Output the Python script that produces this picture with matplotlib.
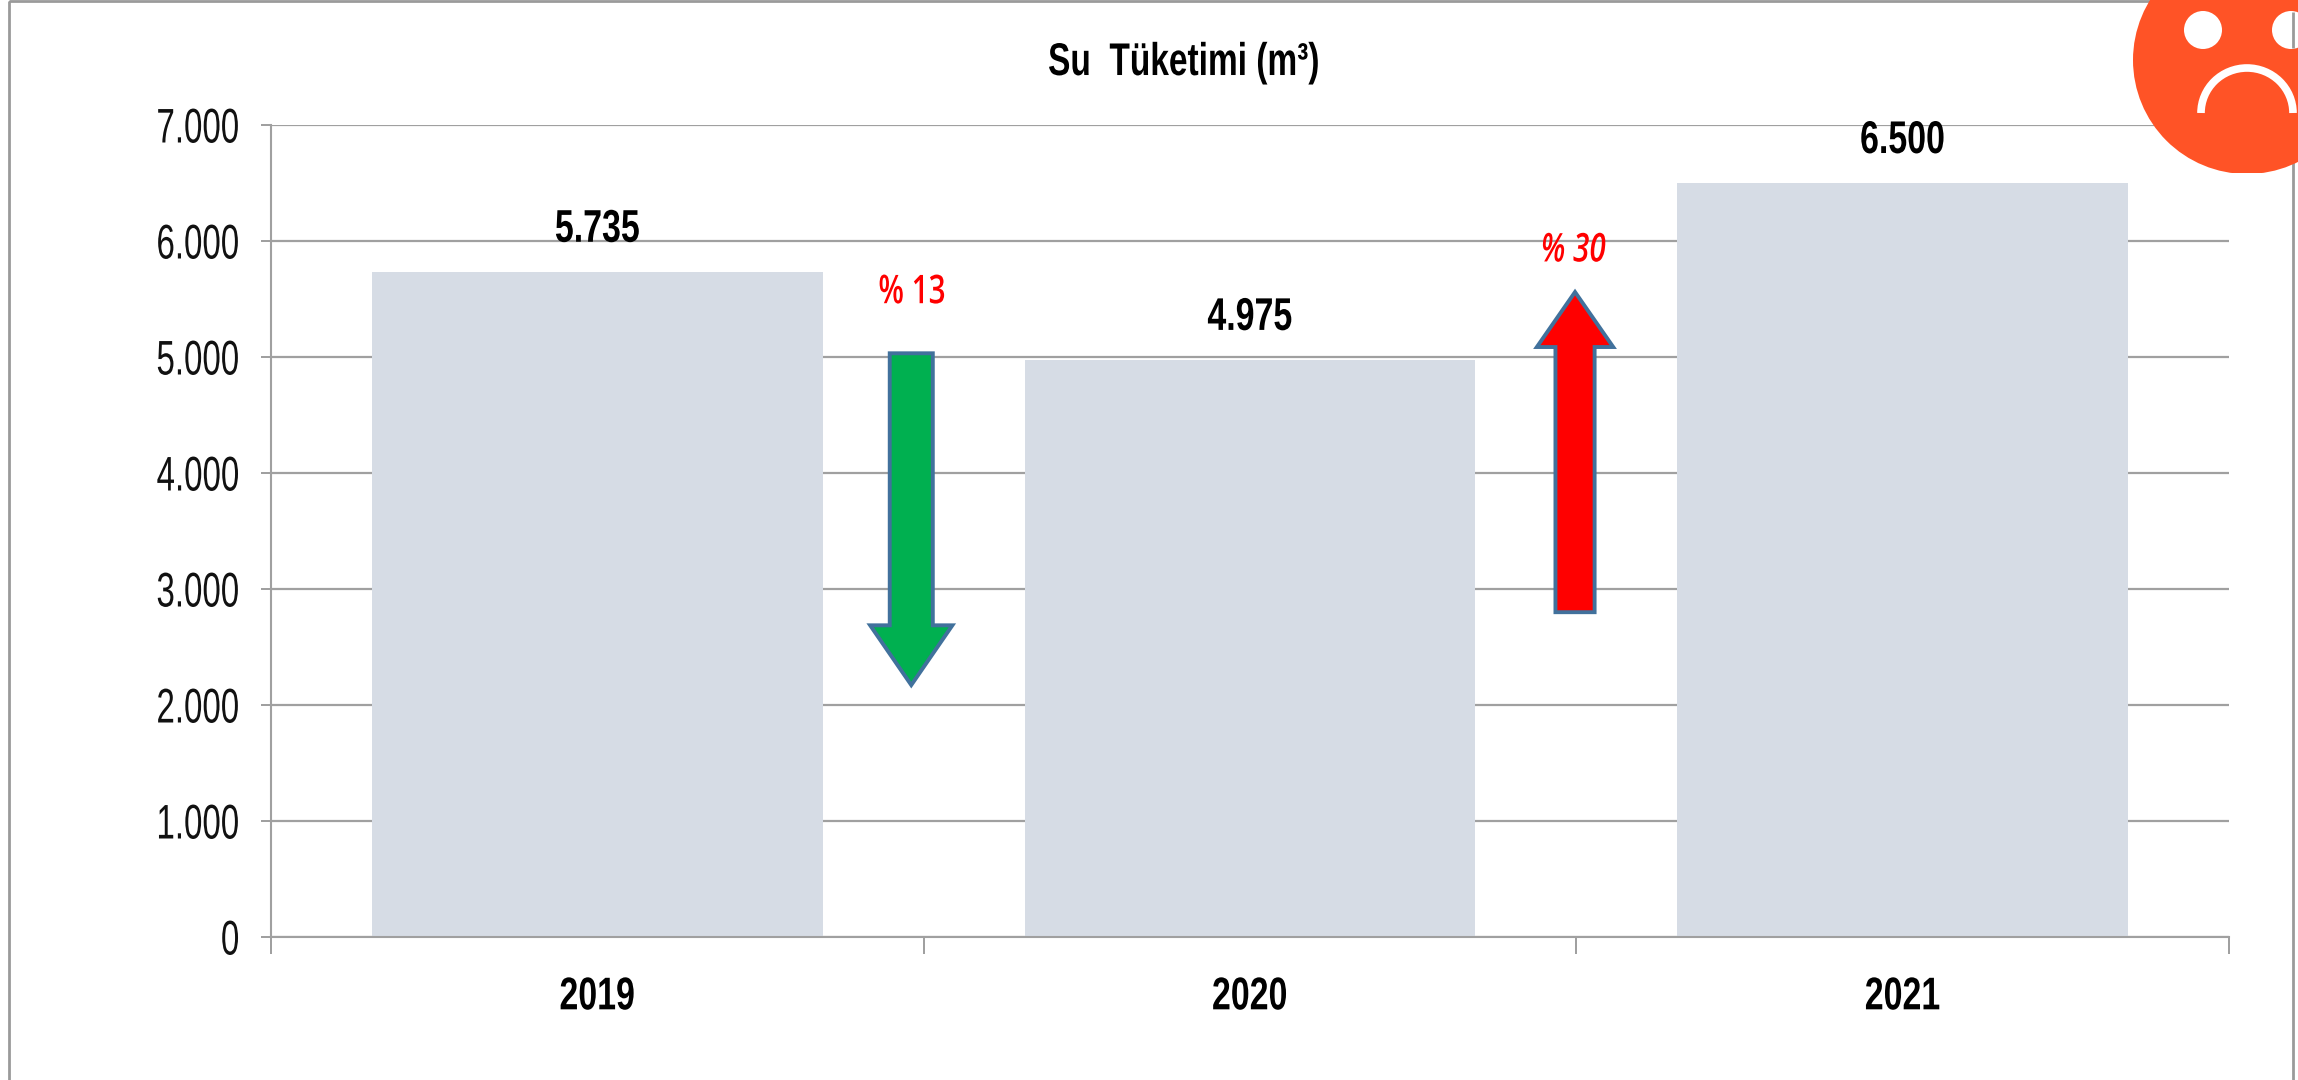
import matplotlib
matplotlib.use("Agg")
import matplotlib.pyplot as plt
from matplotlib.patches import Circle, Arc, FancyArrow, Rectangle
from matplotlib.patheffects import AbstractPathEffect
from matplotlib.transforms import Affine2D

categories = ["2019", "2020", "2021"]
water_use = [5735, 4975, 6500]
value_labels = ["5.735", "4.975", "6.500"]
y_ticks = [0, 1000, 2000, 3000, 4000, 5000, 6000, 7000]
y_tick_labels = ["0", "1.000", "2.000", "3.000", "4.000", "5.000", "6.000", "7.000"]
title = "Su  Tüketimi (m³)"
change_labels = ["% 13", "% 30"]


class Squeeze(AbstractPathEffect):
    """Narrow the glyphs of a text horizontally around an anchor of its extent."""

    def __init__(self, sx, anchor=0.5):
        super().__init__()
        self.sx, self.anchor = sx, anchor

    def draw_path(self, renderer, gc, tpath, affine, rgbFace=None):
        e = tpath.get_extents()
        a = e.x0 + self.anchor * e.width
        t = Affine2D().translate(-a, 0).scale(self.sx, 1).translate(a, 0) + affine
        renderer.draw_path(gc, tpath, t, rgbFace)


W, H = 2298, 1080
GRID = "#A0A0A0"
FONT = "Liberation Sans"
fig = plt.figure(figsize=(W / 100, H / 100), dpi=100, facecolor="white")

L, R, T, B = 271, 2229, 125, 937
ax = fig.add_axes([L / W, 1 - B / H, (R - L) / W, (B - T) / H])
x = range(len(categories))
ax.bar(x, water_use, width=0.69, color="#D6DCE5", zorder=2)
ax.set_xlim(-0.5, 2.5)
ax.set_ylim(0, 7000)
ax.set_yticks(y_ticks, y_tick_labels, fontsize=35, family=FONT, color="#111111")
for t in ax.get_yticklabels():
    t.set_path_effects([Squeeze(0.68, 1.0)])
ax.set_xticks([-0.5, 0.5, 1.5, 2.5], [""] * 4)
for i, c in enumerate(categories):
    ax.text(i, -520, c, ha="center", va="center", fontsize=33, family=FONT, fontweight="bold",
            color="black", path_effects=[Squeeze(0.74)])
ax.yaxis.grid(True, color=GRID, lw=1.6, zorder=1)
ax.set_axisbelow(True)
ax.tick_params(axis="y", length=7.2, width=1.44, color=GRID, pad=15.2)
ax.tick_params(axis="x", length=12, width=1.44, color=GRID)
for s in ("top", "right"):
    ax.spines[s].set_visible(False)
for s in ("left", "bottom"):
    ax.spines[s].set_color(GRID)
    ax.spines[s].set_linewidth(1.5)

for i, (v, lab) in enumerate(zip(water_use, value_labels)):
    ax.text(i, v + 362, lab, ha="center", va="center", fontsize=33, family=FONT, fontweight="bold",
            color="black", zorder=5, path_effects=[Squeeze(0.74)])

ax.add_patch(FancyArrow(0.481, 5032, 0, -2860, width=0.066, head_width=0.126, head_length=515,
                        length_includes_head=True, fc="#00B050", ec="#41719C", lw=2.8, zorder=4))
ax.add_patch(FancyArrow(1.498, 2800, 0, 2760, width=0.06, head_width=0.117, head_length=474,
                        length_includes_head=True, fc="#FF0000", ec="#41719C", lw=2.8, zorder=4))
ax.text(0.482, 5550, change_labels[0], ha="center", va="center", color="#FF0000", fontsize=28.5,
        family="Open Sans", fontweight="semibold", zorder=5, path_effects=[Squeeze(0.75)])
ax.text(1.495, 5910, change_labels[1], ha="center", va="center", color="#FF0000", fontsize=28.5,
        family="Open Sans", fontweight="semibold", style="italic", zorder=5,
        path_effects=[Squeeze(0.75)])

fig.text(808 * 1.4656 / W, 1 - 43 * 1.4656 / H, title, ha="center", va="center", fontsize=33,
         family=FONT, fontweight="bold", color="black", path_effects=[Squeeze(0.73)])

ov = fig.add_axes([0, 0, 1, 1], facecolor="none")
ov.set_xlim(0, W)
ov.set_ylim(H, 0)
ov.axis("off")
ov.add_patch(Rectangle((9, 1), 2284, 1200, fc="none", ec="#9A9A9A", lw=2, zorder=1))
clip = Rectangle((0, 0), W, 173, transform=ov.transData)
face = Circle((2247, 60), 114, fc="#FF5326", ec="none", zorder=2)
ov.add_patch(face)
face.set_clip_path(clip)
ov.add_patch(Circle((2203, 30), 19, fc="white", ec="none", zorder=3))
ov.add_patch(Circle((2291, 30), 19, fc="white", ec="none", zorder=3))
ov.add_patch(Arc((2247, 113), 92, 90, theta1=180, theta2=360, ec="white", lw=5.5, zorder=3))
ov.vlines(2293, 12, 48, color="#9A9A9A", lw=2, zorder=4)
fig.savefig("out.png", dpi=100)
